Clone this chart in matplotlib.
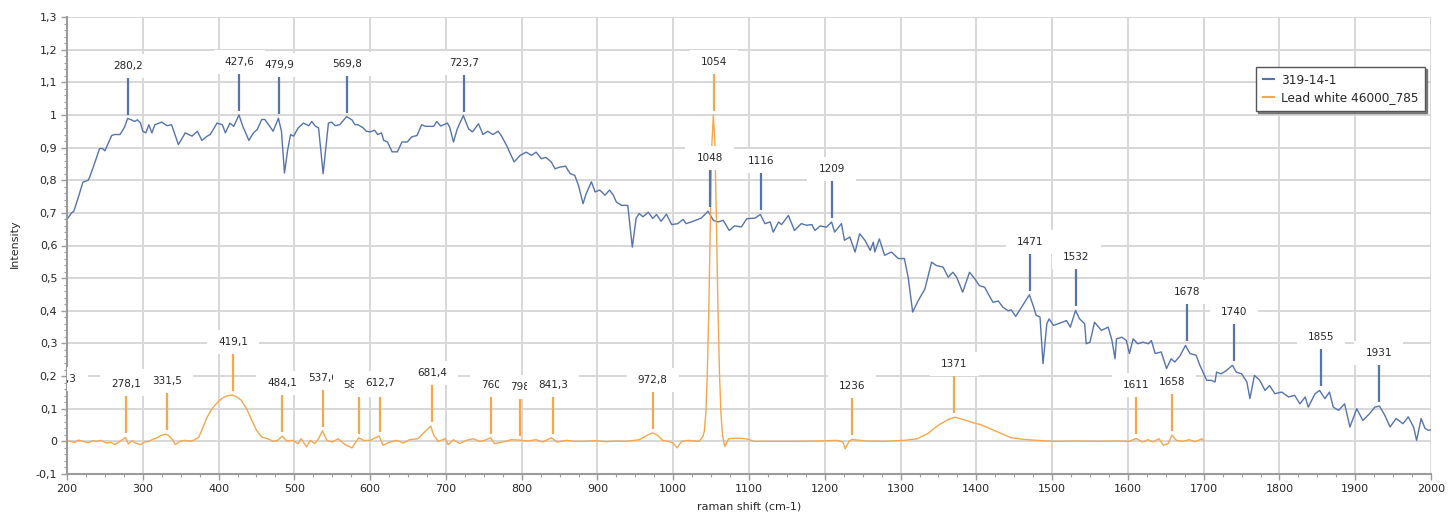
import numpy as np
import matplotlib
matplotlib.use("Agg")
import matplotlib.pyplot as plt
from matplotlib.patches import Rectangle
from matplotlib.ticker import MultipleLocator, FuncFormatter

# Sample spectrum 319-14-1 (raman shift, normalised intensity)
sample_x = [200, 206, 209, 215, 221, 228, 230, 237, 243, 247, 250, 259, 263, 270, 276, 280,
            285, 289, 293, 297, 300, 304, 308, 312, 316, 325, 332, 338, 347, 356, 365, 372,
            378, 385, 389, 398, 405, 409, 415, 420, 427, 432, 440, 446, 451, 457, 461, 467,
            472, 479, 483, 487, 491, 495, 499, 505, 512, 519, 523, 528, 532, 538, 545, 549,
            554, 560, 569, 576, 580, 584, 591, 595, 600, 606, 610, 615, 618, 623, 629, 636,
            642, 649, 655, 662, 668, 673, 684, 688, 693, 702, 705, 710, 715, 723, 730, 735,
            743, 749, 755, 762, 769, 773, 780, 790, 798, 806, 813, 819, 826, 832, 839, 844,
            850, 858, 864, 870, 875, 881, 885, 892, 897, 903, 910, 916, 921, 925, 932, 940,
            946, 951, 955, 960, 967, 973, 978, 984, 991, 998, 1006, 1013, 1017, 1026, 1037, 1046,
            1053, 1059, 1066, 1074, 1081, 1090, 1097, 1108, 1115, 1121, 1128, 1132, 1139, 1143, 1152, 1160,
            1169, 1176, 1183, 1187, 1194, 1202, 1209, 1213, 1222, 1226, 1233, 1240, 1246, 1253, 1260, 1264,
            1266, 1272, 1279, 1288, 1297, 1305, 1310, 1316, 1323, 1332, 1341, 1347, 1356, 1363, 1369, 1374,
            1382, 1391, 1398, 1404, 1411, 1418, 1422, 1429, 1435, 1442, 1446, 1452, 1461, 1470, 1475, 1479,
            1484, 1488, 1493, 1496, 1502, 1510, 1519, 1524, 1531, 1536, 1543, 1545, 1550, 1556, 1565, 1574,
            1579, 1583, 1585, 1592, 1598, 1602, 1607, 1613, 1620, 1627, 1631, 1636, 1644, 1651, 1657, 1662,
            1669, 1676, 1682, 1690, 1695, 1701, 1704, 1710, 1715, 1717, 1723, 1730, 1738, 1743, 1750, 1757,
            1761, 1767, 1774, 1781, 1787, 1794, 1803, 1812, 1820, 1827, 1834, 1838, 1847, 1853, 1860, 1866,
            1871, 1878, 1886, 1893, 1902, 1910, 1919, 1926, 1932, 1939, 1946, 1954, 1963, 1970, 1977, 1981,
            1987, 1992, 1996, 2000]
sample_y = [0.680, 0.700, 0.705, 0.748, 0.794, 0.800, 0.810, 0.856, 0.897, 0.897, 0.890, 0.937, 0.940, 0.940, 0.963, 0.989,
            0.985, 0.980, 0.985, 0.975, 0.950, 0.945, 0.970, 0.945, 0.970, 0.978, 0.967, 0.970, 0.909, 0.945, 0.935, 0.950,
            0.922, 0.935, 0.940, 0.975, 0.970, 0.945, 0.975, 0.965, 1.000, 0.965, 0.922, 0.945, 0.955, 0.986, 0.986, 0.967,
            0.950, 0.990, 0.950, 0.822, 0.890, 0.940, 0.935, 0.960, 0.975, 0.967, 0.980, 0.965, 0.960, 0.820, 0.975, 0.978,
            0.967, 0.970, 0.995, 0.985, 0.970, 0.970, 0.960, 0.950, 0.948, 0.953, 0.940, 0.945, 0.922, 0.917, 0.887, 0.887,
            0.917, 0.917, 0.933, 0.937, 0.970, 0.965, 0.965, 0.980, 0.966, 0.975, 0.963, 0.917, 0.957, 0.998, 0.957, 0.948,
            0.973, 0.940, 0.950, 0.940, 0.950, 0.937, 0.907, 0.856, 0.876, 0.886, 0.876, 0.886, 0.866, 0.870, 0.856, 0.835,
            0.840, 0.843, 0.820, 0.815, 0.784, 0.728, 0.758, 0.795, 0.764, 0.770, 0.754, 0.770, 0.754, 0.733, 0.723, 0.723,
            0.595, 0.683, 0.698, 0.688, 0.702, 0.683, 0.695, 0.674, 0.696, 0.664, 0.667, 0.680, 0.667, 0.674, 0.684, 0.705,
            0.677, 0.672, 0.677, 0.646, 0.660, 0.657, 0.682, 0.684, 0.695, 0.667, 0.672, 0.641, 0.672, 0.664, 0.692, 0.646,
            0.667, 0.662, 0.664, 0.646, 0.660, 0.656, 0.672, 0.641, 0.667, 0.616, 0.626, 0.580, 0.636, 0.616, 0.585, 0.610,
            0.580, 0.620, 0.570, 0.580, 0.560, 0.560, 0.503, 0.396, 0.430, 0.466, 0.549, 0.539, 0.534, 0.503, 0.518, 0.503,
            0.457, 0.518, 0.498, 0.477, 0.472, 0.442, 0.426, 0.430, 0.411, 0.400, 0.403, 0.383, 0.416, 0.449, 0.416, 0.386,
            0.381, 0.238, 0.360, 0.375, 0.355, 0.362, 0.370, 0.350, 0.401, 0.376, 0.360, 0.299, 0.304, 0.365, 0.340, 0.350,
            0.309, 0.253, 0.314, 0.319, 0.309, 0.269, 0.314, 0.299, 0.304, 0.299, 0.309, 0.269, 0.274, 0.223, 0.253, 0.243,
            0.263, 0.294, 0.269, 0.264, 0.233, 0.202, 0.187, 0.187, 0.182, 0.212, 0.207, 0.217, 0.233, 0.212, 0.207, 0.182,
            0.131, 0.202, 0.187, 0.156, 0.171, 0.146, 0.151, 0.136, 0.141, 0.115, 0.136, 0.105, 0.146, 0.156, 0.131, 0.151,
            0.105, 0.095, 0.115, 0.044, 0.100, 0.064, 0.085, 0.105, 0.108, 0.080, 0.044, 0.070, 0.054, 0.075, 0.044, 0.003,
            0.070, 0.040, 0.034, 0.035]

# Reference spectrum: Lead white 46000_785
ref_x = [190, 195, 200, 204, 210, 215, 221, 228, 234, 239, 245, 252, 258, 263, 270, 277,
         281, 286, 290, 297, 302, 308, 313, 319, 324, 330, 334, 340, 343, 349, 355, 361,
         367, 374, 379, 384, 390, 395, 401, 406, 412, 418, 424, 430, 437, 444, 450, 457,
         465, 472, 478, 484, 490, 498, 505, 509, 516, 521, 527, 532, 537, 543, 550, 558,
         567, 576, 585, 591, 600, 606, 612, 617, 626, 635, 644, 652, 663, 672, 680, 684,
         690, 699, 703, 710, 718, 727, 736, 745, 751, 759, 764, 775, 786, 797, 808, 819,
         828, 839, 847, 859, 870, 881, 898, 912, 924, 938, 955, 966, 973, 979, 986, 994,
         1000, 1005, 1011, 1020, 1034, 1039, 1041, 1043, 1045, 1047, 1049, 1051, 1053, 1055, 1057, 1059,
         1061, 1063, 1065, 1068, 1073, 1085, 1096, 1107, 1136, 1164, 1192, 1216, 1224, 1227, 1232, 1236,
         1254, 1277, 1305, 1322, 1336, 1350, 1364, 1372, 1384, 1396, 1407, 1421, 1435, 1446, 1463, 1480,
         1503, 1531, 1559, 1588, 1602, 1611, 1619, 1627, 1633, 1641, 1647, 1653, 1658, 1664, 1672, 1681,
         1689, 1698, 1700]
ref_y = [0.030, 0.020, 0.002, 0.000, -0.003, 0.004, 0.000, -0.004, 0.002, 0.000, 0.003, -0.005, -0.003, -0.010, 0.000, 0.012,
         -0.008, 0.002, -0.005, -0.010, -0.002, 0.000, 0.006, 0.011, 0.018, 0.022, 0.018, 0.003, -0.010, 0.000, 0.003, 0.001,
         0.003, 0.013, 0.040, 0.070, 0.095, 0.110, 0.125, 0.134, 0.140, 0.142, 0.136, 0.126, 0.100, 0.064, 0.034, 0.013,
         0.008, 0.000, 0.003, 0.016, 0.001, 0.003, -0.007, 0.008, -0.017, 0.003, -0.007, 0.008, 0.032, 0.003, -0.002, 0.008,
         -0.010, -0.020, 0.011, 0.003, 0.003, 0.010, 0.016, -0.012, -0.002, 0.003, -0.005, 0.005, 0.008, 0.029, 0.047, 0.018,
         0.000, 0.008, -0.010, 0.005, -0.007, 0.003, 0.008, 0.000, 0.003, 0.011, -0.007, -0.002, 0.005, 0.004, 0.001, 0.005,
         -0.002, 0.011, -0.002, 0.003, 0.000, 0.000, 0.002, -0.001, 0.001, 0.000, 0.005, 0.019, 0.026, 0.019, 0.003, 0.000,
         -0.005, -0.020, 0.000, 0.003, 0.000, 0.015, 0.030, 0.085, 0.210, 0.410, 0.670, 0.910, 1.000, 0.910, 0.670, 0.410,
         0.210, 0.085, 0.020, -0.016, 0.008, 0.010, 0.008, 0.000, 0.000, 0.000, 0.001, 0.003, -0.002, -0.023, 0.000, 0.006,
         0.001, 0.000, 0.003, 0.008, 0.024, 0.050, 0.068, 0.074, 0.066, 0.057, 0.050, 0.036, 0.022, 0.011, 0.006, 0.003,
         0.000, 0.001, 0.000, 0.001, 0.000, 0.009, -0.002, 0.005, -0.002, 0.008, -0.012, -0.007, 0.019, 0.003, 0.000, 0.005,
         -0.001, 0.008, 0.002]

# Peak positions marked on each spectrum
sample_peaks = [280.2, 427.6, 479.9, 569.8, 723.7, 1048, 1116, 1209, 1471, 1532,
                1678, 1740, 1855, 1931]
ref_peaks = [193.3, 278.1, 331.5, 419.1, 484.1, 537.6, 584.7, 612.7, 681.4, 760,
             798, 841.3, 972.8, 1054, 1236, 1371, 1611, 1658]

series_names = ["319-14-1", "Lead white 46000_785"]
x_label = "raman shift (cm-1)"
y_label = "Intensity"

BLUE = "#5573ad"
ORANGE = "#f6a64c"
GRID = "#d7d7d7"
AXIS = "#9b9b9b"
TEXT = "#262626"

W, H, DPI = 1448, 515, 100
fig = plt.figure(figsize=(W / DPI, H / DPI), dpi=DPI, facecolor="white")
AX_W, AX_H = 1364, 457
ax = fig.add_axes([67 / W, 41 / H, AX_W / W, AX_H / H])

XMIN, XMAX, YMIN, YMAX = 200, 2000, -0.1, 1.3
ax.set_xlim(XMIN, XMAX)
ax.set_ylim(YMIN, YMAX)

ax.plot(sample_x, sample_y, color=BLUE, lw=1.0, zorder=2, label=series_names[0])
ax.plot(ref_x, ref_y, color=ORANGE, lw=1.0, zorder=2, label=series_names[1])

# data units per pixel
dpp_y = (YMAX - YMIN) / AX_H
dpp_x = (XMAX - XMIN) / AX_W


def local_top(xs, ys, x0, half=3.0):
    grid = np.linspace(x0 - half, x0 + half, 61)
    return np.interp(grid, xs, ys).max()


def fmt_num(v):
    return f"{v:g}".replace(".", ",")


marks = [(p, sample_x, sample_y, BLUE) for p in sample_peaks] + \
        [(p, ref_x, ref_y, ORANGE) for p in ref_peaks]
marks.sort(key=lambda m: m[0])

labels = []
for i, (p, xs, ys, c) in enumerate(marks):
    top = local_top(xs, ys, p)
    y0 = top + 4 * dpp_y
    y1 = top + 42 * dpp_y
    ax.plot([p, p], [y0, y1], color=c, lw=1.6, zorder=3, solid_capstyle="butt")
    ty = y1 + 11 * dpp_y
    t = ax.text(p, ty, fmt_num(p), ha="center", va="center", fontsize=7.5,
                color=TEXT, zorder=5.01 + 0.01 * i, clip_on=True)
    labels.append((t, p, ty, i))

# white label plates, sized from the rendered text
renderer = fig.canvas.get_renderer()
for t, p, ty, i in labels:
    ext = t.get_window_extent(renderer)
    wpx = ext.width + 22
    hpx = 24
    ax.add_patch(Rectangle((p - wpx / 2 * dpp_x, ty - hpx / 2 * dpp_y),
                           wpx * dpp_x, hpx * dpp_y, facecolor="white",
                           edgecolor="none", zorder=5.0 + 0.01 * i))

# grid and axes
ax.xaxis.set_major_locator(MultipleLocator(100))
ax.xaxis.set_minor_locator(MultipleLocator(25))
ax.yaxis.set_major_locator(MultipleLocator(0.1))
ax.yaxis.set_minor_locator(MultipleLocator(0.02))
ax.grid(True, which="major", color=GRID, lw=1.4, zorder=0)
ax.set_axisbelow(True)


def yfmt(v, pos):
    v = round(v, 2) + 0.0
    s = f"{v:.1f}"
    if s.endswith(".0"):
        s = s[:-2]
    if s == "-0":
        s = "0"
    return s.replace(".", ",")


ax.yaxis.set_major_formatter(FuncFormatter(yfmt))
ax.tick_params(axis="both", which="major", direction="out", length=4, width=1,
               color=AXIS, labelsize=8, labelcolor=TEXT, pad=3)
ax.tick_params(axis="both", which="minor", direction="out", length=2.5, width=0.8, color=AXIS)

for side in ("top", "right"):
    ax.spines[side].set_visible(False)
for side in ("left", "bottom"):
    ax.spines[side].set_color(AXIS)
    ax.spines[side].set_linewidth(1.5)

ax.set_xlabel(x_label, fontsize=8, color=TEXT)
ax.set_ylabel(y_label, fontsize=8, color=TEXT)
ax.xaxis.set_label_coords(0.5, -0.072)
ax.xaxis.label.set_va("center")
ax.yaxis.set_label_coords(-0.038, 0.505)
ax.yaxis.label.set_va("center")

leg = ax.legend(loc="upper right", bbox_to_anchor=(0.9956, 0.8906), borderaxespad=0,
                fontsize=8.7, frameon=True, fancybox=False, handlelength=0.9,
                handletextpad=0.6, borderpad=0.55, labelspacing=0.35,
                shadow={"ox": 1.5, "oy": -1.5, "color": "#555555", "alpha": 0.7})
leg.get_frame().set_edgecolor("#555555")
leg.get_frame().set_linewidth(1.0)
for t in leg.get_texts():
    t.set_color(TEXT)
for line in leg.get_lines():
    line.set_linewidth(1.5)
leg.set_zorder(10)

fig.savefig("out.png", dpi=DPI, facecolor="white")
